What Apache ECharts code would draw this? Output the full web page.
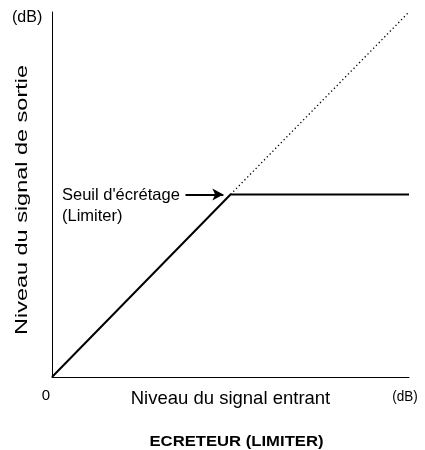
<!DOCTYPE html>
<html>
<head>
<meta charset="utf-8">
<script src="https://cdn.jsdelivr.net/npm/echarts@6/dist/echarts.min.js"></script>
<style>
  html, body { margin: 0; padding: 0; background: #fff; }
  #chart { width: 425px; height: 450px; }
</style>
</head>
<body>
<div id="chart"></div>
<script>
// limiter transfer curve (arbitrary dB units, 0..10)
const limiterCurve = [[0, 0], [5, 5], [10, 5]]
const unityLine = [[5, 5], [10, 10]]
const arrowFrom = [3.74, 5]
const arrowTo = [4.8, 5]
const xTickLabels = ['0']

const font = 'Liberation Sans, Arial, sans-serif'

const chart = echarts.init(document.getElementById('chart'))

const option = {
  animation: false,
  grid: { left: 52, right: 16, top: 12, bottom: 73 },
  xAxis: {
    type: 'value',
    min: 0,
    max: 10,
    name: 'Niveau du signal entrant',
    nameLocation: 'middle',
    nameGap: 12,
    nameMoveOverlap: false,
    nameTextStyle: { color: '#000', fontSize: 18.5, fontFamily: font },
    axisLine: { show: true, lineStyle: { color: '#000', width: 1 } },
    axisTick: { show: false },
    splitLine: { show: false },
    axisLabel: {
      showMinLabel: true,
      showMaxLabel: false,
      formatter: v => (v === 0 ? xTickLabels[0] : ''),
      color: '#000',
      fontSize: 15,
      fontFamily: font,
      margin: 11,
      padding: [0, 12, 0, 0]
    }
  },
  yAxis: {
    type: 'value',
    min: 0,
    max: 10,
    axisLine: { show: true, lineStyle: { color: '#000', width: 1 } },
    axisTick: { show: false },
    splitLine: { show: false },
    axisLabel: { show: false }
  },
  series: [
    {
      type: 'line',
      data: limiterCurve,
      symbol: 'none',
      lineStyle: { color: '#000', width: 2 },
      z: 3,
      markLine: {
        silent: true,
        symbol: ['none', 'arrow'],
        symbolSize: [9, 11],
        label: { show: false },
        lineStyle: { color: '#000', width: 2, type: 'solid' },
        data: [[{ coord: arrowFrom }, { coord: arrowTo }]]
      }
    },
    {
      type: 'line',
      data: unityLine,
      symbol: 'none',
      lineStyle: { color: '#000', width: 1.3, type: [1.3, 2.7] },
      z: 2
    }
  ],
  graphic: [
    {
      type: 'text',
      x: 12,
      y: 18,
      style: { text: '(dB)', fill: '#000', font: '16px ' + font, verticalAlign: 'middle' }
    },
    {
      type: 'text',
      x: 405,
      y: 396.5,
      scaleX: 0.9,
      style: { text: '(dB)', fill: '#000', font: '15px ' + font, align: 'center', verticalAlign: 'middle' }
    },
    {
      // y axis title, stretched along its length like the original artwork
      type: 'text',
      x: 22.5,
      y: 200,
      rotation: Math.PI / 2,
      scaleX: 1.38,
      style: {
        text: 'Niveau du signal de sortie',
        fill: '#000',
        font: '17px ' + font,
        align: 'center',
        verticalAlign: 'middle'
      }
    },
    {
      type: 'text',
      x: 62,
      y: 195,
      style: { text: "Seuil d'écrétage", fill: '#000', font: '16.5px ' + font, verticalAlign: 'middle' }
    },
    {
      type: 'text',
      x: 62,
      y: 216,
      style: { text: '(Limiter)', fill: '#000', font: '16.5px ' + font, verticalAlign: 'middle' }
    },
    {
      type: 'text',
      x: 236.5,
      y: 442,
      scaleX: 1.19,
      style: {
        text: 'ECRETEUR (LIMITER)',
        fill: '#000',
        font: 'bold 14px ' + font,
        align: 'center',
        verticalAlign: 'middle'
      }
    }
  ]
}

chart.setOption(option)
</script>
</body>
</html>
